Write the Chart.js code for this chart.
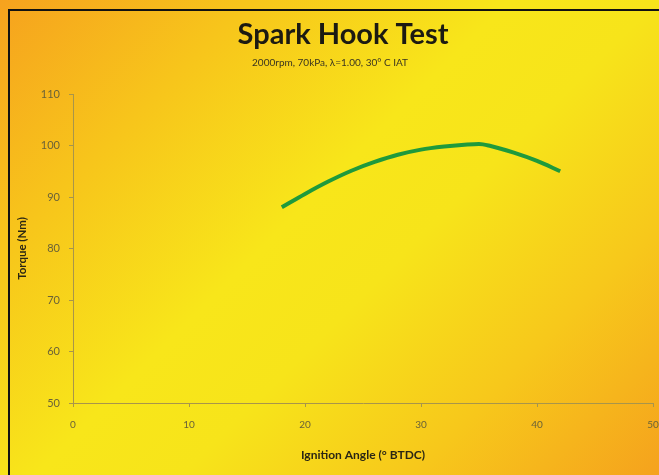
<!DOCTYPE html>
<html>
<head>
<meta charset="utf-8">
<script src="https://cdn.jsdelivr.net/npm/chart.js"></script>
<style>
  html, body {
    margin: 0;
    padding: 0;
    width: 659px;
    height: 475px;
    overflow: hidden;
  }
  body {
    position: relative;
    background: linear-gradient(135deg, #f6a21e 0%, #f7c51b 22%, #f8e61a 45%, #f7e41a 58%, #f7c81b 78%, #f5a21d 100%);
  }
  #frame {
    position: absolute;
    left: 8px;
    top: 9px;
    width: 700px;
    height: 520px;
    border: 2px solid #111;
    box-sizing: border-box;
  }
  #wrap {
    position: absolute;
    left: 0;
    top: 0;
    width: 680px;
    height: 475px;
  }
</style>
</head>
<body>
<div id="frame"></div>
<!-- canvas runs past the right edge so the "50" tick label gets clipped like the original -->
<div id="wrap"><canvas id="chart" width="680" height="475"></canvas></div>
<script>
// Spark hook sweep
const ignitionAngle = [18, 20, 22, 24, 26, 28, 30, 32, 34, 35, 36, 38, 40, 42];
const torqueNm = [88, 90.6, 93, 95.1, 96.8, 98.2, 99.2, 99.8, 100.2, 100.3, 99.9, 98.6, 97, 95];

const xTicks = [0, 10, 20, 30, 40, 50];
const yTicks = [50, 60, 70, 80, 90, 100, 110];

const titleText = 'Spark Hook Test';
const subtitleText = '2000rpm, 70kPa, \u03bb=1.00, 30\u00b0 C IAT';
const xTitle = 'Ignition Angle (\u00b0 BTDC)';
const yTitle = 'Torque (Nm)';

const axisColor = '#a8954a';
const tickColor = '#6a6238';
const fontFamily = "Lato, 'Open Sans', sans-serif";

const points = ignitionAngle.map((a, i) => ({ x: a, y: torqueNm[i] }));

// title block sits a little right of the subtitle in the original, so draw both by hand
const headerPlugin = {
    id: 'header',
    afterDraw(chart) {
        const ctx = chart.ctx;
        ctx.save();
        ctx.textAlign = 'center';
        ctx.textBaseline = 'middle';
        ctx.fillStyle = '#1c1a12';
        ctx.font = `bold 29px ${fontFamily}`;
        ctx.fillText(titleText, 343, 35);
        ctx.fillStyle = '#3a3520';
        ctx.font = `10px ${fontFamily}`;
        ctx.fillText(subtitleText, 330, 63);
        ctx.restore();
    }
};

new Chart(document.getElementById('chart'), {
    type: 'line',
    data: {
        datasets: [{
            data: points,
            borderColor: '#1f9a3c',
            borderWidth: 4,
            pointRadius: 0,
            fill: false,
            cubicInterpolationMode: 'monotone'
        }]
    },
    options: {
        responsive: false,
        animation: false,
        layout: {
            padding: { left: 0, right: 27, top: 94, bottom: 0 }
        },
        plugins: {
            legend: { display: false },
            tooltip: { enabled: false },
            title: { display: false },
            subtitle: { display: false }
        },
        scales: {
            x: {
                type: 'linear',
                min: 0,
                max: 50,
                afterFit: (scale) => { scale.height = 72; },
                afterBuildTicks: (scale) => { scale.ticks = xTicks.map(v => ({ value: v })); },
                border: { color: axisColor, width: 1 },
                grid: { drawOnChartArea: false, drawTicks: true, tickLength: 4, color: axisColor },
                ticks: {
                    color: tickColor,
                    padding: 12,
                    maxRotation: 0,
                    font: { family: fontFamily, size: 10 }
                },
                title: {
                    display: true,
                    text: xTitle,
                    color: '#2a2614',
                    font: { family: fontFamily, size: 12, weight: 'bold', lineHeight: 1.2 },
                    padding: { top: 0, bottom: 13 }
                }
            },
            y: {
                type: 'linear',
                min: 50,
                max: 110,
                afterFit: (scale) => { scale.width = 73; },
                afterBuildTicks: (scale) => { scale.ticks = yTicks.map(v => ({ value: v })); },
                border: { color: axisColor, width: 1 },
                grid: { drawOnChartArea: false, drawTicks: true, tickLength: 4, color: axisColor },
                ticks: {
                    color: tickColor,
                    padding: 9,
                    font: { family: fontFamily, size: 11 }
                },
                title: {
                    display: true,
                    text: yTitle,
                    color: '#2a2614',
                    font: { family: fontFamily, size: 11.5, weight: 'bold', lineHeight: 1.2 },
                    padding: { top: 15, bottom: 0 }
                }
            }
        }
    },
    plugins: [headerPlugin]
});
</script>
</body>
</html>
